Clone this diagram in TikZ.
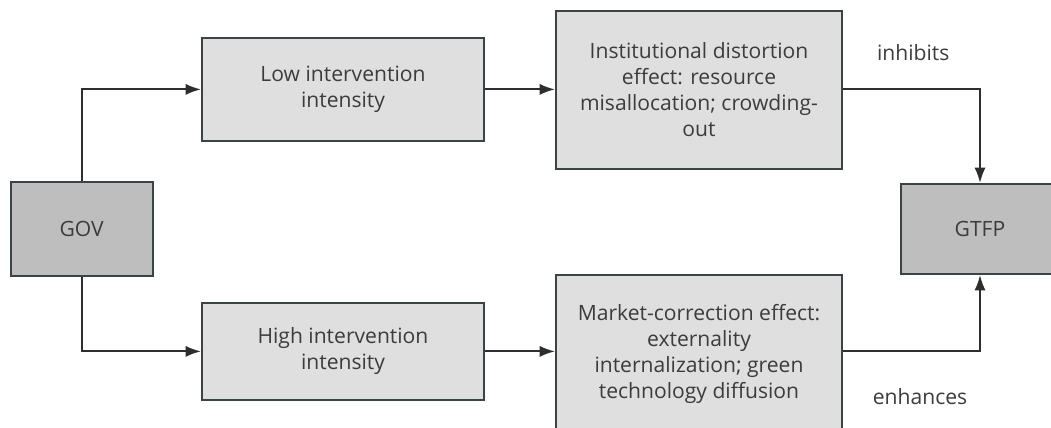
\documentclass[tikz,border=0pt]{standalone}
\usepackage{fontspec}
\setmainfont{Open Sans}
\usepackage{tikz}
\usetikzlibrary{arrows.meta, positioning, shapes}
\definecolor{boxline}{HTML}{3A4447}
\definecolor{darkbox}{HTML}{BEBEBE}
\definecolor{lightbox}{HTML}{DFDFDF}
\definecolor{txt}{HTML}{3C3C3C}
\newcommand{\flowArrow}{{Latex[length=11pt, width=8pt]}}

\begin{document}
\begin{tikzpicture}[font=\fontsize{15}{18.5}\selectfont, text=txt,
	box/.style={draw=boxline, line width=1.4pt, align=center, inner sep=2pt},
	endbox/.style={box, fill=darkbox, minimum width=3.55cm, minimum height=2.35cm},
	midbox/.style={box, fill=lightbox, minimum width=7.05cm, minimum height=2.5cm},
	effbox/.style={box, fill=lightbox, minimum width=7.15cm, minimum height=3.95cm},
	link/.style={draw=black!82, line width=1.4pt}]
	\useasboundingbox (0,0) rectangle (26.275,10.675);
	\clip (0,0) rectangle (26.275,10.675);

	% outer boxes
	\node[endbox] (gov) at (2.04,4.95) {GOV};
	\node[endbox, minimum width=3.95cm, minimum height=2.25cm] (gtfp) at (24.5,4.95) {GTFP};

	% intervention intensity
	\node[midbox, minimum height=2.575cm] (low) at (8.575,8.44) {Low intervention\\intensity};
	\node[midbox, minimum height=2.425cm] (high) at (8.575,1.89) {High intervention\\intensity};

	% effects
	\node[effbox] (inst) at (17.475,8.43) {Institutional distortion\\effect: resource\\misallocation; crowding-\\out};
	\node[effbox] (mkt) at (17.475,1.83) {Market-correction effect:\\externality\\internalization; green\\technology diffusion};

	\node (inh) at (22.83,9.35) {inhibits};
	\node (enh) at (23.0,0.75) {enhances};

	\draw[link, -\flowArrow] (gov.north) |- (low.west);
	\draw[link, -\flowArrow] (gov.south) |- (high.west);
	\draw[link, -\flowArrow] (low.east) -- (low.east -| inst.west);
	\draw[link, -\flowArrow] (high.east) -- (high.east -| mkt.west);
	\draw[link, -\flowArrow] (inst.east |- low.east) -| (gtfp.north);
	\draw[link, -\flowArrow] (mkt.east |- high.east) -| (gtfp.south);
\end{tikzpicture}
\end{document}
